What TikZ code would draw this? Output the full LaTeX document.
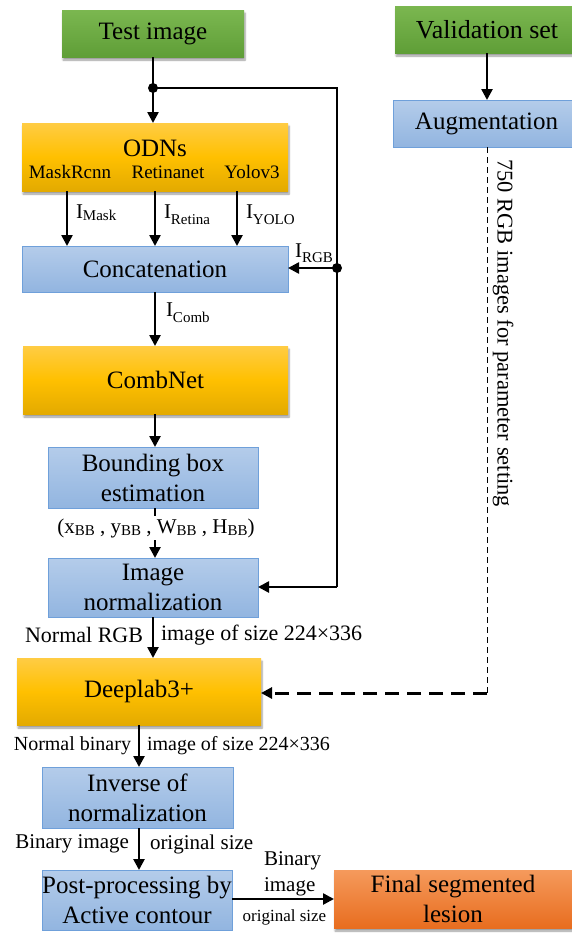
\documentclass[tikz,border=0pt]{standalone}
\usepackage{fontspec}
\setmainfont{Liberation Serif}
\usetikzlibrary{arrows.meta,shadows.blur,calc}
\definecolor{gtop}{HTML}{7BB750}
\definecolor{gbot}{HTML}{5F9E37}
\definecolor{ytop}{HTML}{FFCC44}
\definecolor{ymid}{HTML}{FFC000}
\definecolor{ybot}{HTML}{E3AA00}
\definecolor{btop}{HTML}{B4CCEA}
\definecolor{bbot}{HTML}{92B5E0}
\definecolor{bline}{HTML}{6FA0DA}
\definecolor{otop}{HTML}{F59A5C}
\definecolor{obot}{HTML}{E86D1F}
\begin{document}
\begin{tikzpicture}[x=1pt,y=-1pt,
  every node/.style={inner sep=0pt,outer sep=0pt},
  box/.style={rectangle,align=center,font=\fontsize{25}{30}\selectfont},
  greenbox/.style={box,top color=gtop,bottom color=gbot,blur shadow={shadow xshift=1pt,shadow yshift=-3pt,shadow blur steps=6}},
  yellowbox/.style={box,top color=ytop,bottom color=ybot,middle color=ymid,blur shadow={shadow xshift=1pt,shadow yshift=-3pt,shadow blur steps=6}},
  bluebox/.style={box,top color=btop,bottom color=bbot,draw=bline,line width=1pt},
  orangebox/.style={box,top color=otop,bottom color=obot,blur shadow={shadow xshift=1pt,shadow yshift=-3pt,shadow blur steps=6}},
  lbl/.style={font=\fontsize{21}{24}\selectfont},
  biglbl/.style={font=\fontsize{22}{24}\selectfont},
  smlbl/.style={font=\fontsize{20}{24}\selectfont},
  sublbl/.style={font=\fontsize{19}{22}\selectfont},
  arr/.style={line width=2.5pt,-{Triangle[length=11pt,width=11pt]}},
  ln/.style={line width=2.5pt},
  dotc/.style={circle,fill=black,minimum size=10pt}
]
\useasboundingbox (0,0) rectangle (572,937);

% boxes
\node[greenbox,minimum width=182pt,minimum height=47pt] (test) at (153,33.5) {Test image};
\node[greenbox,minimum width=177pt,minimum height=47pt,font=\fontsize{26}{30}\selectfont] (valid) at (483.5,29.5) {\hspace*{7pt}Validation set};
\node[bluebox,minimum width=179pt,minimum height=47pt] (aug) at (482.5,123.5) {\hspace*{8pt}Augmentation};
\node[yellowbox,minimum width=266pt,minimum height=68pt] (odn) at (155,157) {};
\node[box] (odnt) at (155,148) {ODNs};
\node[sublbl] (mrc) at (70,172) {MaskRcnn};
\node[sublbl] (ret) at (168,172) {Retinanet};
\node[sublbl] (yol) at (252,172) {Yolov3};
\node[bluebox,minimum width=266pt,minimum height=46pt] (concat) at (155,269) {Concatenation};
\node[yellowbox,minimum width=265pt,minimum height=68pt] (comb) at (155.5,380) {CombNet};
\node[bluebox,minimum width=210pt,minimum height=61pt] (bbox) at (153,477.5) {Bounding box\\estimation};
\node[bluebox,minimum width=210pt,minimum height=59pt] (norm) at (153,587.5) {Image\\normalization};
\node[yellowbox,minimum width=244pt,minimum height=67pt] (deep) at (139,691.5) {Deeplab3+};
\node[bluebox,minimum width=191pt,minimum height=61pt] (inv) at (137.5,797.5) {Inverse of\\normalization};
\node[bluebox,minimum width=190pt,minimum height=60pt] (post) at (137,900) {Post-processing by\\Active contour};
\node[orangebox,minimum width=238pt,minimum height=58pt] (final) at (453,899) {Final segmented\\lesion};

% test image to ODNs, and side branch
\coordinate (j1) at (153,88);
\coordinate (c1) at (337,88);
\coordinate (c3) at (337,587);
\draw[ln] (test.south -| j1) -- (j1);
\draw[arr] (j1) -- (j1 |- odn.north);
\draw[ln] (j1) -- (c1) -- (c3);
\node[dotc] at (j1) {};
\node[dotc] (j2) at (337,268) {};
\draw[arr] (j2.center) -- (concat.east |- j2);
\draw[arr] (c3) -- (norm.east |- c3);
\node[lbl,anchor=south east] (irgb) at (333,263) {I\raisebox{-5pt}{\fontsize{15}{15}\selectfont RGB}};

% ODNs to concatenation
\coordinate (a1) at (67,0);
\coordinate (a2) at (155,0);
\coordinate (a3) at (237,0);
\draw[arr] (odn.south -| a1) -- (concat.north -| a1);
\draw[arr] (odn.south -| a2) -- (concat.north -| a2);
\draw[arr] (odn.south -| a3) -- (concat.north -| a3);
\node[lbl,anchor=west] (imask) at (76,213) {I\raisebox{-2pt}{\fontsize{15}{15}\selectfont Mask}};
\node[lbl,anchor=west] (iret) at (164,215) {I\raisebox{-6pt}{\fontsize{15}{15}\selectfont Retina}};
\node[lbl,anchor=west] (iyolo) at (246,215) {I\raisebox{-6pt}{\fontsize{15}{15}\selectfont YOLO}};

% concat to combnet
\draw[arr] (concat.south -| a2) -- (comb.north -| a2);
\node[lbl,anchor=west] (icomb) at (166,313) {I\raisebox{-6pt}{\fontsize{15}{15}\selectfont Comb}};

% combnet to bbox
\draw[arr] (comb.south -| a2) -- (bbox.north -| a2);

% bbox to norm
\draw[arr] (bbox.south -| a2) -- (norm.north -| a2);
\node[lbl,fill=white,inner xsep=1pt,inner ysep=2pt] (bbl) at (156,528) {(x\raisebox{-2pt}{\fontsize{15}{15}\selectfont BB} , y\raisebox{-2pt}{\fontsize{15}{15}\selectfont BB} , W\raisebox{-2pt}{\fontsize{15}{15}\selectfont BB} , H\raisebox{-2pt}{\fontsize{15}{15}\selectfont BB})};

% norm to deeplab
\coordinate (a4) at (153,0);
\draw[arr] (norm.south -| a4) -- (deep.north -| a4);
\node[biglbl,anchor=east] (nrgb) at (143,635) {Normal RGB};
\node[biglbl,anchor=west] (nrgb2) at (161,635) {image of size 224×336};

% deeplab to inverse
\coordinate (a5) at (139,0);
\draw[arr] (deep.south -| a5) -- (inv.north -| a5);
\node[smlbl,anchor=east] (nbin) at (131,746) {Normal binary};
\node[smlbl,anchor=west] (nbin2) at (147,746) {image of size 224×336};

% inverse to post
\draw[arr] (inv.south -| a5) -- (post.north -| a5);
\node[lbl,anchor=east] (bimg) at (129,844) {Binary image};
\node[lbl,anchor=west] (bimg2) at (150,844) {original size};

% post to final
\draw[arr] (post.east |- final.west) -- (final.west);
\node[lbl,align=left,anchor=south west,font=\fontsize{21}{26}\selectfont] (bimg3) at (264,896) {Binary\\image};
\node[font=\fontsize{17}{20}\selectfont] (osz) at (284.5,917) {original size};

% validation path
\draw[arr] (valid.south -| aug.north) ++(4.5,0) coordinate (v1) -- (v1 |- aug.north);
\coordinate (d1) at (487,693);
\draw[line width=1pt,dash pattern=on 6pt off 4pt] (aug.south -| d1) -- (d1);
\draw[line width=3pt,dash pattern=on 14pt off 8pt,-{Triangle[length=11pt,width=11pt]}] (d1) -- (deep.east |- d1);
\node[rotate=-90,anchor=west,font=\fontsize{22.5}{24}\selectfont] (vtxt) at (503,159) {750 RGB images for parameter setting};
\end{tikzpicture}
\end{document}
